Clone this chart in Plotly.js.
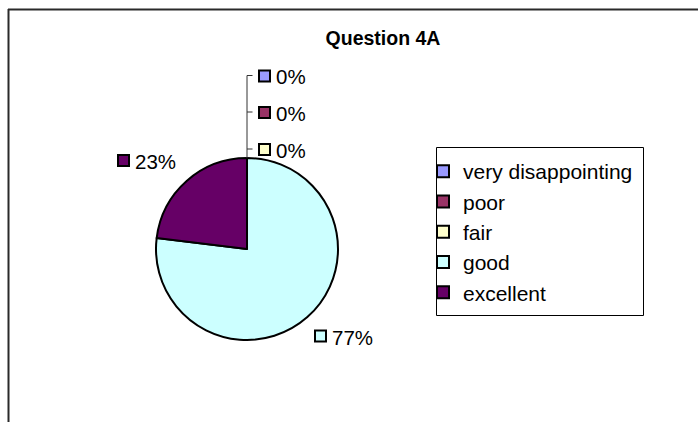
<!DOCTYPE html>
<html>
<head>
<meta charset="utf-8">
<script src="https://cdn.plot.ly/plotly-3.0.1.min.js"></script>
<style>html,body{margin:0;padding:0;background:#fff;}#chart{width:698px;height:422px;}</style>
</head>
<body>
<div id="chart"></div>
<script>
// ---- data ----
var chartTitle = "Question 4A";
var categories = ["very disappointing", "poor", "fair", "good", "excellent"];
var counts = [0, 0, 0, 10, 3];
var sliceColors = ["#9999FF", "#993366", "#FFFFCC", "#CCFFFF", "#660066"];

// ---- layout helpers (pixel -> paper) ----
var W = 698, H = 422;
function px(x) { return x / W; }
function py(y) { return 1 - y / H; }
var FONT = "Liberation Sans, Arial, sans-serif";

var total = counts.reduce(function (a, b) { return a + b; }, 0);
var pctText = counts.map(function (v) { return Math.round(v / total * 100) + "%"; });

// label anchor positions (pixel centres of the little key squares), per category
var labelPos = [
  [264.5, 76], [264.5, 112.5], [264.5, 149.5], [320.5, 336], [123.5, 160.5]
];

var shapes = [];
var annotations = [];

// chart frame (clipped at right/bottom like the reference)
shapes.push({type: "line", xref: "paper", yref: "paper", x0: px(8), x1: px(720), y0: py(9.5), y1: py(9.5), line: {color: "#2a2a2a", width: 2}});
shapes.push({type: "line", xref: "paper", yref: "paper", x0: px(8.5), x1: px(8.5), y0: py(9), y1: py(440), line: {color: "#2a2a2a", width: 2}});

// legend frame
shapes.push({type: "rect", xref: "paper", yref: "paper", layer: "above",
  x0: px(436.5), x1: px(643.5), y0: py(147.5), y1: py(315.5), line: {color: "#000", width: 1}});

// leader line for the zero-valued slices
shapes.push({type: "line", xref: "paper", yref: "paper", x0: px(247), x1: px(247), y0: py(75.5), y1: py(158), line: {color: "#333", width: 1}});
[0, 1, 2].forEach(function (i) {
  shapes.push({type: "line", xref: "paper", yref: "paper", x0: px(247), x1: px(252.5), y0: py(labelPos[i][1] - 0.5), y1: py(labelPos[i][1] - 0.5), line: {color: "#333", width: 1}});
});

categories.forEach(function (c, i) {
  var cx = labelPos[i][0], cy = labelPos[i][1];
  shapes.push({type: "rect", xref: "paper", yref: "paper", layer: "above",
    x0: px(cx - 5.5), x1: px(cx + 5.5), y0: py(cy - 5.5), y1: py(cy + 5.5),
    fillcolor: sliceColors[i], line: {color: "#000", width: 2}});
  annotations.push({xref: "paper", yref: "paper", x: px(cx + 9), y: py(cy + 1),
    xanchor: "left", yanchor: "middle", showarrow: false, text: pctText[i],
    font: {family: FONT, size: 20.5, color: "#000"}});
});

var trace = {
  type: "pie",
  labels: categories,
  values: counts,
  sort: false,
  direction: "clockwise",
  rotation: 0,
  textinfo: "none",
  hoverinfo: "none",
  marker: {colors: sliceColors, line: {color: "#000", width: 2}},
  domain: {x: [px(156), px(338)], y: [py(340), py(158)]}
};

var layout = {
  width: W, height: H,
  margin: {l: 0, r: 0, t: 0, b: 0},
  paper_bgcolor: "#fff",
  showlegend: true,
  title: {text: "<b>" + chartTitle + "</b>", x: px(383), xanchor: "center", xref: "paper",
    y: py(38), yanchor: "middle", yref: "paper",
    font: {family: FONT, size: 19.5, color: "#000"}},
  legend: {x: px(423), y: py(151), xanchor: "left", yanchor: "top",
    borderwidth: 0, bgcolor: "rgba(0,0,0,0)",
    font: {family: FONT, size: 21, color: "#000"}},
  shapes: shapes,
  annotations: annotations
};

Plotly.newPlot("chart", [trace], layout, {displayModeBar: false, staticPlot: true});
</script>
</body>
</html>
